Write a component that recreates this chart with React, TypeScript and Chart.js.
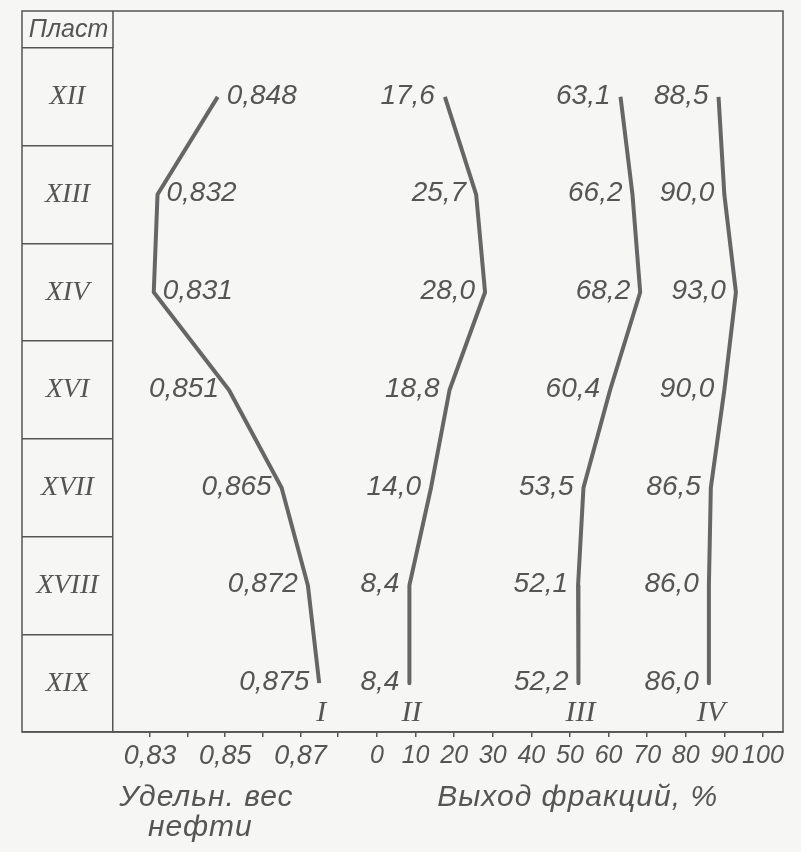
import React, { useEffect, useRef } from 'react';
import { Chart, registerables } from 'chart.js';

Chart.register(...registerables);

// ---- data ----
const layers = ['XII', 'XIII', 'XIV', 'XVI', 'XVII', 'XVIII', 'XIX'];
const seriesNames = ['I', 'II', 'III', 'IV'];
const gravity = [0.848, 0.832, 0.831, 0.851, 0.865, 0.872, 0.875];
const yieldII = [17.6, 25.7, 28.0, 18.8, 14.0, 8.4, 8.4];
const yieldIII = [63.1, 66.2, 68.2, 60.4, 53.5, 52.1, 52.2];
const yieldIV = [88.5, 90.0, 93.0, 90.0, 86.5, 86.0, 86.0];
const gravityTicks = [0.83, 0.84, 0.85, 0.86, 0.87, 0.88];
const gravityTickLabels = ['0,83', '', '0,85', '', '0,87', ''];
const percentTicks = [0, 10, 20, 30, 40, 50, 60, 70, 80, 90, 100];
const percentTickLabels = ['0', '10', '20', '30', '40', '50', '60', '70', '80', '90', '100'];
const gravityLabelSide = ['right', 'right', 'right', 'left', 'left', 'left', 'left'];
const headerLabel = 'Пласт';
const gravityTitle = ['Удельн. вес', 'нефти'];
const percentTitle = 'Выход фракций, %';

// ---- styles ----
const BG = '#f6f6f5';
const INK = '#555555';
const LINE = '#666666';
const SANS = '"Liberation Sans", Arial, sans-serif';
const SERIF = '"Liberation Serif", "Times New Roman", serif';
const ROMAN_SIZE = 28;
const AXIS_BAND = 120;

function measureWidest(labels: string[], font: string) {
  const c = document.createElement('canvas').getContext('2d')!;
  c.font = font;
  return Math.max(...labels.map((l) => c.measureText(l).width));
}

const fmt = (v: number, d: number) => v.toFixed(d).replace('.', ',');

const decorPlugin = {
  id: 'decor',
  afterLayout(chart: any) {
    // the gravity axis takes no layout space but still needs room for its labels
    const xg = chart.scales.xg;
    if (xg) {
      xg.bottom = xg.top + AXIS_BAND;
      xg.height = AXIS_BAND;
    }
  },
  beforeDraw(chart: any) {
    const { ctx } = chart;
    ctx.save();
    ctx.fillStyle = BG;
    ctx.fillRect(0, 0, chart.width, chart.height);
    ctx.restore();
  },
  afterDraw(chart: any) {
    const { ctx, chartArea: ca } = chart;
    const yScale = chart.scales.y;
    const xg = chart.scales.xg;
    const xp = chart.scales.xp;
    const frameLeft = yScale.left;
    const frameTop = ca.top - 37;
    ctx.save();
    ctx.strokeStyle = INK;
    ctx.lineWidth = 1.5;
    ctx.strokeRect(frameLeft, frameTop, ca.right - frameLeft, ca.bottom - frameTop);
    ctx.beginPath();
    ctx.moveTo(ca.left, frameTop);
    ctx.lineTo(ca.left, ca.top);
    ctx.stroke();

    ctx.fillStyle = INK;
    ctx.textAlign = 'center';
    ctx.textBaseline = 'middle';
    ctx.font = `italic 25px ${SANS}`;
    ctx.fillText(headerLabel, (frameLeft + ca.left) / 2 + 1, (frameTop + ca.top) / 2 + 1);

    // value labels next to the points and series names under the lines
    chart.data.datasets.forEach((ds: any, di: number) => {
      const meta = chart.getDatasetMeta(di);
      const digits = ds.xAxisID === 'xg' ? 3 : 1;
      ctx.font = `italic 28px ${SANS}`;
      meta.data.forEach((pt: any, i: number) => {
        const side = ds.labelSide ? ds.labelSide[i] : 'left';
        const text = fmt(ds.data[i], digits);
        ctx.textAlign = side === 'left' ? 'right' : 'left';
        ctx.textBaseline = 'middle';
        ctx.fillText(text, side === 'left' ? pt.x - 10 : pt.x + 9, pt.y - 1);
      });
      const last = meta.data[meta.data.length - 1];
      ctx.font = `italic 30px ${SERIF}`;
      ctx.textAlign = 'center';
      ctx.textBaseline = 'middle';
      ctx.fillText(ds.label, last.x + 2, last.y + 30);
    });

    // axis titles
    ctx.font = `italic 30px ${SANS}`;
    (ctx as any).letterSpacing = '1px';
    ctx.textAlign = 'center';
    ctx.textBaseline = 'alphabetic';
    const gx = xg.getPixelForValue(0.845);
    ctx.fillText(gravityTitle[0], gx, 806);
    ctx.fillText(gravityTitle[1], gx - 6, 836);
    ctx.fillText(percentTitle, xp.getPixelForValue(52), 806);
    (ctx as any).letterSpacing = '0px';
    ctx.restore();
  },
};

export default function App() {
  const ref = useRef<HTMLCanvasElement>(null);
  useEffect(() => {
    const romanFontStr = `italic ${ROMAN_SIZE}px ${SERIF}`;
    const widest = measureWidest(layers, romanFontStr);
    const tableWidth = 91;
    const tickLen = 91;
    // centre the layer labels inside the left table column
    const yPadding = tableWidth / 2 - tickLen - widest / 2;

    const mkLine = (label: string, data: number[], xAxisID: string, extra: any = {}) => ({
      label,
      data,
      xAxisID,
      yAxisID: 'y',
      borderColor: LINE,
      borderWidth: 4,
      pointRadius: 0,
      tension: 0,
      fill: false,
      borderJoinStyle: 'round',
      ...extra,
    });

    const chart = new Chart(ref.current!, {
      type: 'line',
      data: {
        labels: layers,
        datasets: [
          mkLine(seriesNames[0], gravity, 'xg', { labelSide: gravityLabelSide }),
          mkLine(seriesNames[1], yieldII, 'xp'),
          mkLine(seriesNames[2], yieldIII, 'xp'),
          mkLine(seriesNames[3], yieldIV, 'xp'),
        ] as any,
      },
      options: {
        responsive: false,
        devicePixelRatio: 1,
        animation: false,
        indexAxis: 'y',
        layout: { padding: { left: 22, right: 18, top: 48, bottom: 0 } },
        plugins: { legend: { display: false }, tooltip: { enabled: false } },
        scales: {
          y: {
            type: 'category',
            position: 'left',
            offset: true,
            grid: {
              offset: true,
              drawOnChartArea: false,
              drawTicks: true,
              tickLength: tickLen,
              color: INK,
              lineWidth: 1.5,
            },
            border: { display: true, color: INK, width: 1.5 },
            ticks: {
              color: INK,
              font: { family: SERIF, style: 'italic', size: ROMAN_SIZE },
              crossAlign: 'center',
              padding: yPadding,
              autoSkip: false,
            },
            afterFit: (s: any) => {
              s.width = tableWidth;
            },
          },
          xg: {
            type: 'linear',
            axis: 'x',
            position: 'bottom',
            weight: 0,
            min: 0.82016,
            max: 0.99835,
            grid: { drawOnChartArea: false, drawTicks: true, tickLength: 5, color: INK, lineWidth: 1.5 },
            border: { display: true, color: INK, width: 1.5 },
            afterBuildTicks: (s: any) => {
              s.ticks = gravityTicks.map((v) => ({ value: v }));
            },
            ticks: {
              color: INK,
              font: { family: SANS, style: 'italic', size: 27 },
              padding: 3,
              autoSkip: false,
              maxRotation: 0,
              callback: (_v: any, i: number) => gravityTickLabels[i],
            },
            afterFit: (s: any) => {
              s.height = 0;
            },
          },
          xp: {
            type: 'linear',
            axis: 'x',
            position: 'bottom',
            weight: 1,
            min: -68.4,
            max: 105.2,
            grid: { drawOnChartArea: false, drawTicks: true, tickLength: 5, color: INK, lineWidth: 1.5 },
            border: { display: true, color: INK, width: 1.5 },
            afterBuildTicks: (s: any) => {
              s.ticks = percentTicks.map((v) => ({ value: v }));
            },
            ticks: {
              color: INK,
              font: { family: SANS, style: 'italic', size: 25 },
              padding: 4,
              autoSkip: false,
              maxRotation: 0,
              callback: (_v: any, i: number) => percentTickLabels[i],
            },
            afterFit: (s: any) => {
              s.height = AXIS_BAND;
            },
          },
        } as any,
      },
      plugins: [decorPlugin],
    });
    return () => chart.destroy();
  }, []);

  return (
    <div style={{ position: 'fixed', left: 0, top: 0, width: 801, height: 852, background: BG }}>
      <canvas ref={ref} width={801} height={852} style={{ display: 'block' }} />
    </div>
  );
}
